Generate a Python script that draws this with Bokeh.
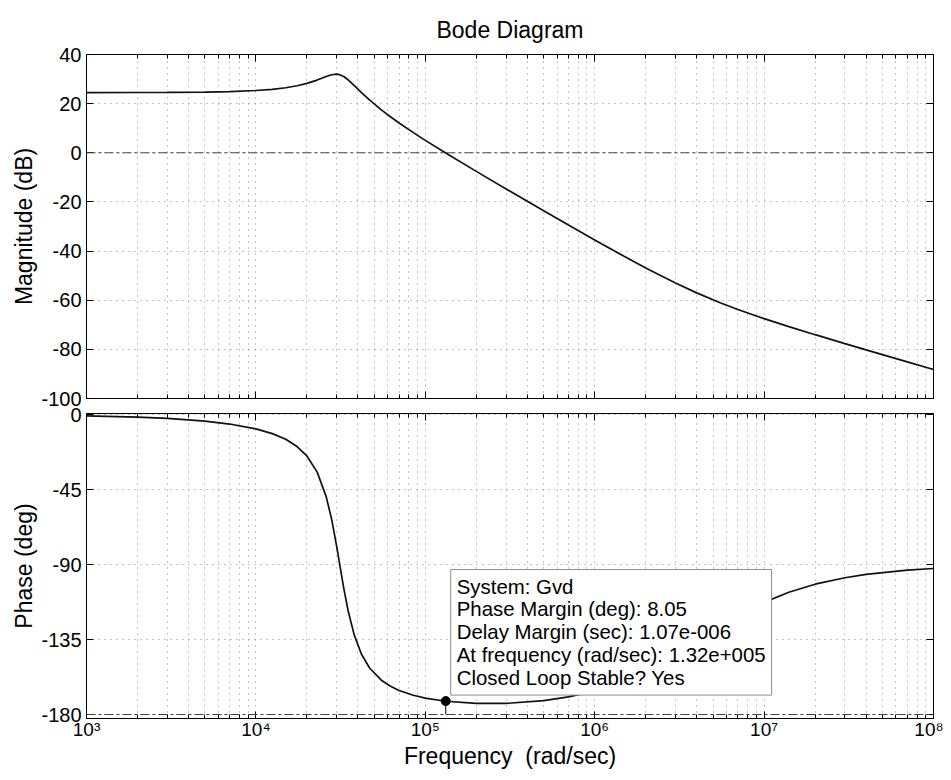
from bokeh.plotting import figure
from bokeh.layouts import column
from bokeh.models import (Range1d, FixedTicker, CustomJSTickFormatter, Span, Label,
                          LogAxis, LinearAxis)
from bokeh.embed import file_html
from bokeh.resources import INLINE

# ---- data ----
freq = [1e3, 2e3, 3e3, 5e3, 7e3, 1e4, 1.25e4, 1.5e4, 1.75e4, 2e4, 2.3e4, 2.6e4, 2.8e4,
        3.0e4, 3.12e4, 3.3e4, 3.5e4, 3.8e4, 4.2e4, 4.7e4, 5.5e4, 6.2e4, 7e4, 8.5e4,
        1e5, 1.32e5, 2e5, 3e5, 5e5, 7e5, 1e6, 1.5e6, 2e6, 3e6, 4e6, 5.5e6, 7e6, 1e7,
        1.4e7, 2e7, 3e7, 4e7, 7e7, 1e8]
mag_db = [24.51, 24.53, 24.57, 24.70, 24.90, 25.34, 25.84, 26.48, 27.27, 28.23, 29.59,
          31.03, 31.76, 32.00, 31.80, 31.03, 29.72, 27.43, 24.49, 21.42, 17.49, 14.76,
          12.14, 8.20, 5.06, -0.10, -7.57, -14.71, -23.60, -29.40, -35.49, -42.25,
          -46.89, -53.03, -57.01, -61.01, -63.75, -67.49, -70.75, -74.03, -77.66,
          -80.19, -85.07, -88.19]
phase_deg = [-0.78, -1.56, -2.36, -3.99, -5.72, -8.62, -11.46, -14.90, -19.21, -24.88,
             -34.55, -49.28, -62.93, -79.28, -89.57, -104.13, -117.62, -132.10, -143.86,
             -152.25, -159.41, -162.94, -165.56, -168.47, -170.16, -172.04, -173.33,
             -173.32, -171.66, -169.43, -165.83, -159.83, -154.15, -144.21, -136.20,
             -127.22, -120.85, -112.71, -106.64, -101.82, -97.94, -95.97, -93.42, -92.40]
mag_ticks = [-100, -80, -60, -40, -20, 0, 20, 40]
phase_ticks = [-180, -135, -90, -45, 0]
x_decades = [1e3, 1e4, 1e5, 1e6, 1e7, 1e8]
pm_freq = 1.32e5
pm_deg = 8.05
tip_lines = ["System: Gvd",
             "Phase Margin (deg): 8.05",
             "Delay Margin (sec): 1.07e-006",
             "At frequency (rad/sec): 1.32e+005",
             "Closed Loop Stable? Yes"]

FONT = "Liberation Sans"
W = 943
GRID = "#8a8a8a"

xr = Range1d(1e3, 1e8)
x_minor = [m * d for d in x_decades[:-1] for m in range(2, 10)]

sup_js = """
const e = Math.round(Math.log10(tick));
const sup = {"0":"\\u2070","1":"\\u00b9","2":"\\u00b2","3":"\\u00b3","4":"\\u2074",
             "5":"\\u2075","6":"\\u2076","7":"\\u2077","8":"\\u2078","9":"\\u2079","-":"\\u207b"};
return "10" + String(e).split("").map(c => sup[c]).join("");
"""
blank_js = 'return "";'
plain_js = 'return String(tick);'


def style_axis(ax, show_labels, size="20px"):
    ax.major_tick_in = 7
    ax.major_tick_out = 0
    ax.minor_tick_in = 4
    ax.minor_tick_out = 0
    ax.axis_line_color = "black"
    ax.major_tick_line_color = "black"
    ax.minor_tick_line_color = "black"
    ax.major_label_text_font = FONT
    ax.major_label_text_color = "black"
    ax.axis_label_text_font = FONT
    ax.axis_label_text_font_style = "normal"
    ax.axis_label_text_font_size = "23px"
    ax.axis_label_text_color = "black"
    ax.major_label_text_font_size = size
    if not show_labels:
        ax.formatter = CustomJSTickFormatter(code=blank_js)
        ax.major_label_standoff = 0


def make_fig(height, y_range, yticks, ylabel, top, bottom, show_x, title=None):
    kw = dict(width=W, height=height, x_axis_type="log", x_range=xr, y_range=y_range,
              output_backend="svg", toolbar_location=None,
              min_border_left=86, min_border_right=10,
              min_border_top=top, min_border_bottom=bottom,
              background_fill_color="white", border_fill_color="white",
              outline_line_color="black")
    if title:
        kw["title"] = title
    p = figure(**kw)
    xt = FixedTicker(ticks=x_decades, minor_ticks=x_minor)
    yt = FixedTicker(ticks=yticks, minor_ticks=[])
    xb = p.below[0]
    yl = p.left[0]
    xb.ticker = xt
    yl.ticker = yt
    p.xgrid.ticker = xt
    p.ygrid.ticker = yt
    xb.formatter = CustomJSTickFormatter(code=sup_js)
    yl.formatter = CustomJSTickFormatter(code=plain_js)
    style_axis(xb, show_x, "19px" if show_x else "8px")
    style_axis(yl, True, "20px")
    yl.axis_label = ylabel
    yl.major_label_standoff = 5
    yl.axis_label_standoff = 1
    if show_x:
        xb.major_label_standoff = 0
        xb.axis_label_standoff = 0
    ax_top = LogAxis(ticker=xt)
    style_axis(ax_top, False, "8px")
    p.add_layout(ax_top, "above")
    ax_r = LinearAxis(ticker=yt)
    style_axis(ax_r, False, "8px")
    p.add_layout(ax_r, "right")
    for g in (p.xgrid, p.ygrid):
        g.grid_line_color = GRID
        g.grid_line_dash = "1 5"
        g.grid_line_width = 1
    p.xgrid.minor_grid_line_color = GRID
    p.xgrid.minor_grid_line_dash = "1 5"
    return p


p1 = make_fig(418, Range1d(-100, 40), mag_ticks, "Magnitude (dB)", 54, 20, False,
              title="Bode Diagram")
p1.title.text_font = FONT
p1.title.text_font_size = "23px"
p1.title.text_font_style = "normal"
p1.title.text_color = "black"
p1.title.align = "center"
p1.title.standoff = 23
p1.add_layout(Span(location=0, dimension="width", line_color="#444444",
                   line_dash="9 3 3 3", line_width=1))
p1.line(freq, mag_db, line_color="#111111", line_width=1.7)

p2 = make_fig(374, Range1d(-182.4, 0.6), phase_ticks, "Phase (deg)", 15, 54, True)
p2.border_fill_alpha = 0
p2.margin = (-20, 0, 0, 0)
p2.below[0].axis_label = "Frequency\u00a0 (rad/sec)"
p2.add_layout(Span(location=-180, dimension="width", line_color="#444444",
                   line_dash="9 3 3 3", line_width=1))
p2.line(freq, phase_deg, line_color="#111111", line_width=1.7)
pm_y = -180 + pm_deg
p2.segment(x0=[pm_freq], y0=[pm_y], x1=[pm_freq], y1=[-180], line_color="black",
           line_width=1)
p2.scatter([pm_freq], [pm_y], size=9, color="black")

tip = Label(x=pm_freq, y=pm_y, x_offset=5, y_offset=6, text="\n".join(tip_lines),
            text_font=FONT, text_font_size="20.4px", text_line_height=1.04,
            text_align="left", text_baseline="bottom", text_color="black",
            background_fill_color="white", border_line_color="#8c8c8c",
            border_line_width=1, padding=6)
p2.add_layout(tip)

layout = column(p1, p2)
with open("out.html", "w", encoding="utf-8") as f:
    f.write(file_html(layout, INLINE))
